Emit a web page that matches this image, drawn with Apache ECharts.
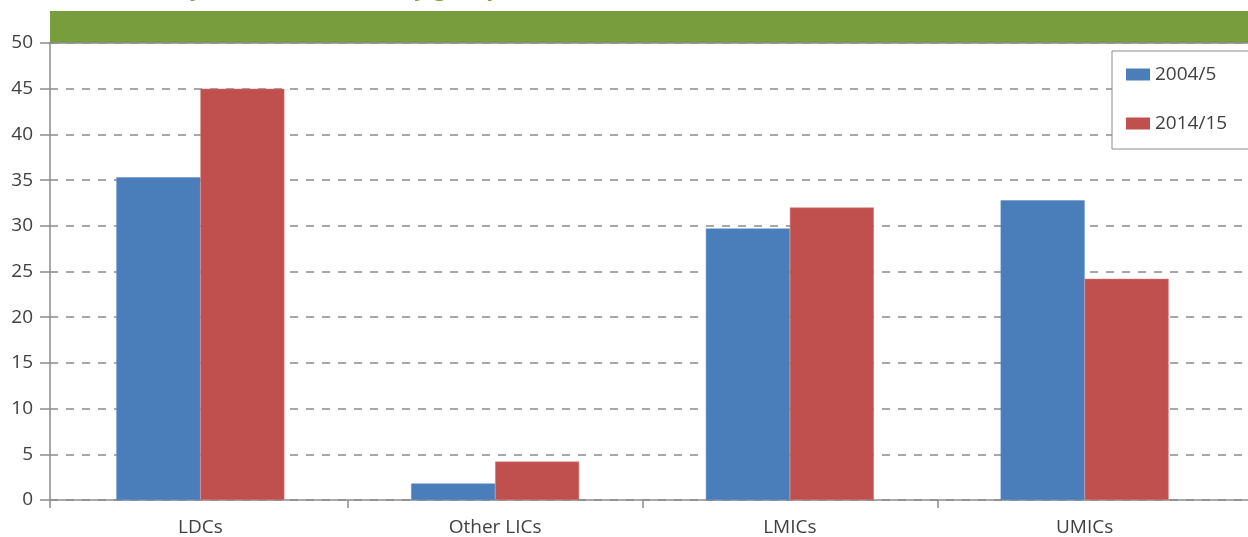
<!DOCTYPE html>
<html>
<head>
<meta charset="utf-8">
<script src="https://cdn.jsdelivr.net/npm/echarts@6/dist/echarts.min.js"></script>
<style>
  html, body { margin: 0; padding: 0; background: #ffffff; }
  #chart { width: 1248px; height: 537px; }
</style>
</head>
<body>
<div id="chart"></div>
<script>
// Country groups along the horizontal axis
const categories = ['LDCs', 'Other LICs', 'LMICs', 'UMICs'];
// Share by country group (%)
const series2004 = [35.3, 1.8, 29.7, 32.8];
const series2014 = [45.0, 4.2, 32.0, 24.2];
const seriesNames = ['2004/5', '2014/15'];
const yTicks = { min: 0, max: 50, interval: 5 };
const titleText = 'Poverty headcount ratio by group (%)';

const FONT = '"Open Sans", "Noto Sans", sans-serif';
const TEXT = '#404040';
const AXIS = '#8c8c8c';
const FS = 19;

const chart = echarts.init(document.getElementById('chart'), null, { renderer: 'canvas' });

chart.setOption({
  animation: false,
  backgroundColor: '#ffffff',
  textStyle: { fontFamily: FONT },
  graphic: [
    // green heading band
    { type: 'rect', left: 50, top: 11, z: 0,
      shape: { width: 1198, height: 32 },
      style: { fill: '#789d3c' } },
    // heading text, mostly above the visible area
    { type: 'text', left: 114, top: -23, z: 1,
      style: { text: titleText, fill: '#78a23a', font: 'bold 23px ' + FONT } }
  ],
  legend: {
    data: seriesNames,
    orient: 'vertical',
    left: 1112,
    top: 51,
    padding: [14, 60, 16, 14],
    itemWidth: 24,
    itemHeight: 12,
    itemGap: 30,
    itemStyle: { borderWidth: 0 },
    icon: 'rect',
    backgroundColor: '#ffffff',
    borderColor: '#8c8c8c',
    borderWidth: 1,
    textStyle: { color: TEXT, fontSize: FS, fontFamily: FONT },
    itemTextGap: 12,
    z: 10
  },
  grid: [
    // frame grid spanning the full width: axis lines and dashed gridlines
    { left: 50, right: 0, top: 43, bottom: 37, containLabel: false },
    // bar grid
    { left: 53, right: 16, top: 43, bottom: 37, containLabel: false }
  ],
  xAxis: [
    // baseline of the frame, with the left axis running a little below it
    { type: 'value', gridIndex: 0, min: 0, max: 1, position: 'bottom',
      axisLine: { show: true, lineStyle: { color: AXIS, width: 1.5 } },
      axisTick: { show: true, length: 8, customValues: [0], lineStyle: { color: AXIS, width: 1.5 } },
      axisLabel: { show: false }, splitLine: { show: false } },
    // category labels
    { type: 'category', gridIndex: 1, data: categories, position: 'bottom',
      axisLine: { show: false },
      axisTick: { show: false },
      axisLabel: { color: TEXT, fontSize: FS, margin: 18, fontFamily: FONT },
      splitLine: { show: false } },
    // top border of the frame
    { type: 'value', gridIndex: 0, min: 0, max: 1, position: 'top',
      axisLine: { show: true, lineStyle: { color: AXIS, width: 1.5 } },
      axisTick: { show: false }, axisLabel: { show: false }, splitLine: { show: false } },
    // separators between the category groups
    { type: 'value', gridIndex: 1, min: 0, max: categories.length, interval: 1, position: 'bottom',
      axisLine: { show: false },
      axisTick: { show: true, length: 8, customValues: [1, 2, 3], lineStyle: { color: AXIS, width: 1.5 } },
      axisLabel: { show: false }, splitLine: { show: false } }
  ],
  yAxis: [
    { type: 'value', gridIndex: 0, min: yTicks.min, max: yTicks.max, interval: yTicks.interval,
      axisLine: { show: true, lineStyle: { color: AXIS, width: 1.5 } },
      axisTick: { show: true, length: 10, lineStyle: { color: AXIS, width: 1.5 } },
      axisLabel: { color: TEXT, fontSize: FS, margin: 17, fontFamily: FONT },
      splitLine: { show: true, lineStyle: { color: '#8a8a8a', type: [8, 8], width: 1.5 } } },
    { type: 'value', gridIndex: 1, min: yTicks.min, max: yTicks.max, interval: yTicks.interval,
      show: false, splitLine: { show: false } }
  ],
  series: [
    { name: seriesNames[0], type: 'bar', xAxisIndex: 1, yAxisIndex: 1,
      data: series2004, barWidth: '28.5%', barGap: '0%',
      itemStyle: { color: '#4a7ebb', borderColor: '#5b8bc4', borderWidth: 0.5 }, z: 3 },
    { name: seriesNames[1], type: 'bar', xAxisIndex: 1, yAxisIndex: 1,
      data: series2014, barWidth: '28.5%', barGap: '0%',
      itemStyle: { color: '#c0504d', borderColor: '#d47a78', borderWidth: 0.5 }, z: 3 }
  ]
});
</script>
</body>
</html>
